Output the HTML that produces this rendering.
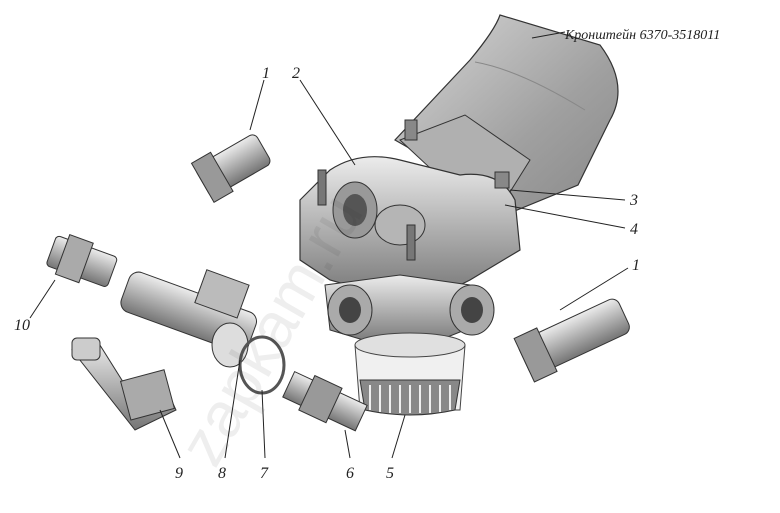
<!DOCTYPE html>
<html><head><meta charset="utf-8"><style>
html,body{margin:0;padding:0;background:#fff;}
svg{display:block}
text{font-family:"Liberation Serif",serif;font-style:italic;fill:#222}
</style></head><body>
<svg width="780" height="513" viewBox="0 0 780 513" xmlns="http://www.w3.org/2000/svg">
<defs>
<linearGradient id="g1" x1="0" y1="0" x2="0" y2="1"><stop offset="0" stop-color="#ececec"/><stop offset=".5" stop-color="#b0b0b0"/><stop offset="1" stop-color="#757575"/></linearGradient>
<linearGradient id="g3" x1="0" y1="0" x2="1" y2="1"><stop offset="0" stop-color="#d8d8d8"/><stop offset=".6" stop-color="#a0a0a0"/><stop offset="1" stop-color="#888"/></linearGradient>
</defs>
<!-- bracket -->
<path d="M470 60 Q495 30 500 15 L600 45 Q630 85 610 120 L578 185 L505 215 L495 195 L430 160 L395 140 Z" fill="url(#g3)" stroke="#333" stroke-width="1.2"/>
<path d="M475 62 Q520 70 585 110" fill="none" stroke="#888"/>
<path d="M400 140 L465 115 L530 160 L505 200 L430 168 Z" fill="#b0b0b0" stroke="#333"/>
<!-- valve body -->
<path d="M300 200 L330 170 Q360 150 400 160 L460 175 Q500 170 515 200 L520 250 L470 280 L430 300 L400 300 L330 280 L300 260 Z" fill="url(#g1)" stroke="#333" stroke-width="1.2"/>
<ellipse cx="355" cy="210" rx="22" ry="28" fill="#999" stroke="#333"/>
<ellipse cx="355" cy="210" rx="12" ry="16" fill="#555"/>
<ellipse cx="400" cy="225" rx="25" ry="20" fill="#b5b5b5" stroke="#333"/>
<path d="M325 285 L400 275 L470 285 L490 320 L440 340 L380 345 L330 330 Z" fill="url(#g1)" stroke="#333"/>
<ellipse cx="350" cy="310" rx="22" ry="25" fill="#aaa" stroke="#333"/>
<ellipse cx="350" cy="310" rx="11" ry="13" fill="#444"/>
<ellipse cx="472" cy="310" rx="22" ry="25" fill="#aaa" stroke="#333"/>
<ellipse cx="472" cy="310" rx="11" ry="13" fill="#444"/>
<rect x="318" y="170" width="8" height="35" fill="#777" stroke="#333"/>
<rect x="407" y="225" width="8" height="35" fill="#777" stroke="#333"/>
<rect x="405" y="120" width="12" height="20" fill="#888" stroke="#333"/>
<rect x="495" y="172" width="14" height="16" fill="#888" stroke="#333"/>
<!-- filter 5 -->
<path d="M355 345 L465 345 L460 410 L360 410 Z" fill="#f0f0f0" stroke="#444"/>
<ellipse cx="410" cy="345" rx="55" ry="12" fill="#e0e0e0" stroke="#444"/>
<path d="M360 380 L460 380 L455 410 Q410 420 365 410 Z" fill="#888" stroke="#333"/>
<g stroke="#eee" stroke-width="2"><path d="M370 385V410M380 385V412M390 385V413M400 385V413M410 385V413M420 385V413M430 385V413M440 385V412M450 385V410"/></g>
<!-- fitting 1 top -->
<g transform="rotate(-30 230 170)"><rect x="200" y="150" width="70" height="35" rx="6" fill="url(#g1)" stroke="#333"/><rect x="200" y="145" width="22" height="45" fill="#999" stroke="#333"/></g>
<!-- fitting 1 right -->
<g transform="rotate(-25 570 340)"><rect x="520" y="320" width="110" height="38" rx="8" fill="url(#g1)" stroke="#333"/><rect x="520" y="315" width="25" height="48" fill="#999" stroke="#333"/></g>
<!-- 10 -->
<g transform="rotate(20 80 265)"><rect x="48" y="245" width="65" height="32" rx="4" fill="url(#g1)" stroke="#333"/><rect x="60" y="240" width="25" height="42" fill="#aaa" stroke="#333"/></g>
<!-- tee 8 -->
<g transform="rotate(20 185 315)"><rect x="120" y="290" width="135" height="42" rx="10" fill="url(#g1)" stroke="#333"/><rect x="190" y="265" width="45" height="35" fill="#bbb" stroke="#333"/></g>
<ellipse cx="230" cy="345" rx="18" ry="22" fill="#ddd" stroke="#333"/>
<!-- ring 7 -->
<ellipse cx="262" cy="365" rx="22" ry="28" fill="none" stroke="#555" stroke-width="3"/>
<!-- 6 -->
<g transform="rotate(25 320 400)"><rect x="285" y="385" width="80" height="28" fill="url(#g1)" stroke="#333"/><rect x="305" y="380" width="30" height="38" fill="#999" stroke="#333"/></g>
<!-- 9 elbow -->
<path d="M72 350 L98 342 L125 385 L160 375 L176 410 L135 430 Z" fill="url(#g1)" stroke="#333"/>
<rect x="125" y="375" width="45" height="40" fill="#aaa" stroke="#333" transform="rotate(-15 147 395)"/>
<rect x="72" y="338" width="28" height="22" rx="5" fill="#ccc" stroke="#333"/>
<!-- watermark -->
<text x="0" y="0" font-size="64" fill="#000" fill-opacity="0.08" style="font-style:normal;font-family:'Liberation Sans',sans-serif" transform="translate(215,470) rotate(-60)">zapkam.ru</text>
<!-- leaders -->
<g stroke="#222" stroke-width="1" fill="none">
<path d="M532 38 L565 32"/><path d="M264 80 L250 130"/><path d="M300 80 L355 165"/>
<path d="M510 190 L625 200"/><path d="M505 205 L625 228"/><path d="M628 268 L560 310"/>
<path d="M30 318 L55 280"/><path d="M180 458 L160 410"/><path d="M225 458 L240 360"/>
<path d="M265 458 L262 390"/><path d="M350 458 L345 430"/><path d="M392 458 L405 415"/>
</g>
<text x="565" y="39" font-size="14">Кронштейн 6370-3518011</text>
<text x="262" y="78" font-size="16">1</text><text x="292" y="78" font-size="16">2</text>
<text x="630" y="205" font-size="16">3</text><text x="630" y="234" font-size="16">4</text>
<text x="632" y="270" font-size="16">1</text><text x="14" y="330" font-size="16">10</text>
<text x="175" y="478" font-size="16">9</text><text x="218" y="478" font-size="16">8</text>
<text x="260" y="478" font-size="16">7</text><text x="346" y="478" font-size="16">6</text>
<text x="386" y="478" font-size="16">5</text>
</svg>
</body></html>
